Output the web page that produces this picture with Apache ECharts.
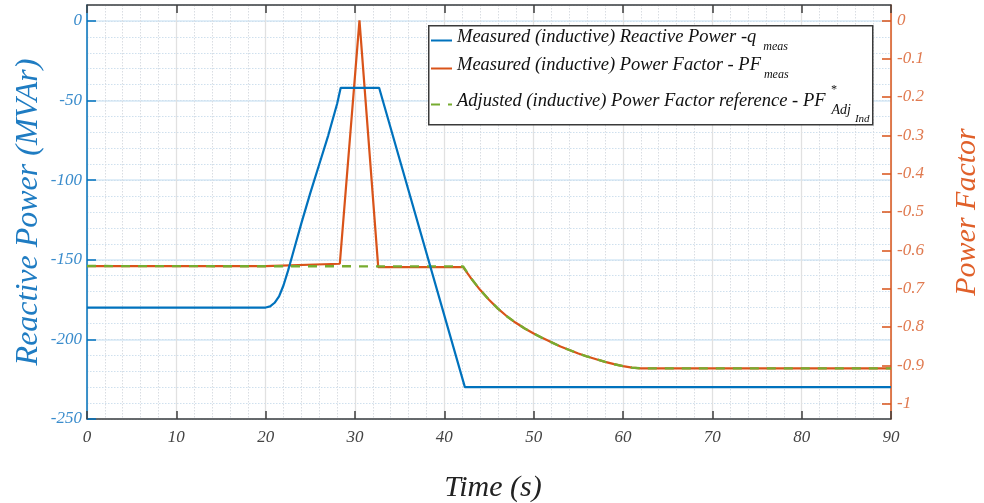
<!DOCTYPE html>
<html><head><meta charset="utf-8">
<script src="https://cdn.jsdelivr.net/npm/echarts@6/dist/echarts.min.js"></script>
<style>html,body{margin:0;padding:0;background:#fff}#c{width:984px;height:503px}</style>
</head><body><div id="c"></div><script>
// ---- data ----
const qTime = [0, 20, 20.5, 21, 21.5, 22, 22.5, 23, 24, 25, 26, 27, 28, 28.4, 32.7, 42.3, 90];
const qVals = [-180, -180, -179.3, -177, -173, -166, -157, -147, -127, -108, -90, -72, -52, -42, -42, -230, -230];

const pfMeasTime = [0, 20, 28.3, 30.5, 32.6, 42.1, 43, 44, 45, 46, 47, 48, 49, 50, 51, 52, 53, 54, 55, 56, 57, 58, 59, 60, 61, 62, 90];
const pfMeasVals = [-0.641, -0.641, -0.635, 0, -0.644, -0.644, -0.673, -0.703, -0.729, -0.752, -0.772, -0.789, -0.804, -0.817, -0.829, -0.840, -0.851, -0.860, -0.869, -0.877, -0.884, -0.891, -0.897, -0.902, -0.906, -0.908, -0.908];

const pfRefTime = [0, 42.1, 43, 44, 45, 46, 47, 48, 49, 50, 51, 52, 53, 54, 55, 56, 57, 58, 59, 60, 61, 62, 90];
const pfRefVals = [-0.641, -0.642, -0.673, -0.703, -0.729, -0.752, -0.772, -0.789, -0.804, -0.817, -0.829, -0.840, -0.851, -0.860, -0.869, -0.877, -0.884, -0.891, -0.897, -0.902, -0.906, -0.908, -0.908];

const seriesNames = [
  'Measured (inductive) Reactive Power -q meas',
  'Measured (inductive) Power Factor - PF meas',
  'Adjusted (inductive) Power Factor reference - PF* Adj Ind'
];
const xName = 'Time (s)';
const yLeftName = 'Reactive Power (MVAr)';
const yRightName = 'Power Factor';

// ---- chart ----
const F = 'Liberation Serif';
const BLUE = '#0072BD', ORANGE = '#D95319', GREEN = '#77AC30';
const pairs = (xs, ys) => xs.map((x, i) => [x, ys[i]]);
const chart = echarts.init(document.getElementById('c'), null, {renderer: 'canvas'});

const tok = (size, extra) => Object.assign({fontFamily: F, fontStyle: 'italic', fontSize: size, color: '#111', verticalAlign: 'top'}, extra || {});
const legendText = {};
legendText[seriesNames[0]] = '{m|Measured (inductive) Reactive Power -q}{s1|meas}';
legendText[seriesNames[1]] = '{m|Measured (inductive) Power Factor - PF}{s2|meas}';
legendText[seriesNames[2]] = '{m3|Adjusted (inductive) Power Factor reference - PF}{sup|*}{adj|Adj}{ind|Ind}';

const option = {
  animation: false,
  backgroundColor: '#fff',
  grid: {left: 87, right: 93, top: 5, bottom: 84, containLabel: false, outerBoundsMode: 'none'},
  graphic: [{
    type: 'rect', z: 3, left: 428, top: 25,
    shape: {width: 444, height: 99},
    style: {fill: '#fff', stroke: '#3a3a3a', lineWidth: 1.5}
  }],
  legend: {
    z: 5,
    orient: 'vertical', left: 430, top: 28, padding: 0, itemGap: 3,
    itemWidth: 21, itemHeight: 1,
    itemStyle: {opacity: 0},
    data: seriesNames,
    formatter: n => legendText[n],
    textStyle: {
      fontFamily: F, fontStyle: 'italic', fontSize: 18.5, color: '#111',
      rich: {
        m: tok(18.5),
        s1: tok(12, {padding: [13, 0, 0, 7]}),
        s2: tok(12, {padding: [13, 0, 0, 3]}),
        m3: tok(18.5, {padding: [8, 0, 0, 0]}),
        sup: tok(12, {padding: [0, 0, 0, 5], width: 1}),
        adj: tok(14, {padding: [19, 0, 0, 0]}),
        ind: tok(11, {padding: [30, 0, 0, 4]})
      }
    }
  },
  xAxis: [{
    type: 'value', min: 0, max: 90, interval: 10, position: 'bottom',
    name: xName, nameLocation: 'middle', nameGap: 54, nameMoveOverlap: false,
    nameTextStyle: {fontFamily: F, fontStyle: 'italic', fontSize: 30, color: '#222', padding: [0, 0, 0, 8]},
    axisLine: {show: true, onZero: false, lineStyle: {color: '#3f3f3f', width: 1.5}},
    axisTick: {show: true, inside: true, length: 8, lineStyle: {color: '#3f3f3f', width: 1.5}},
    axisLabel: {fontFamily: F, fontStyle: 'italic', fontSize: 17, color: '#444', margin: 10},
    splitLine: {show: true, lineStyle: {color: '#e1e1e1', width: 1.3}},
    minorTick: {show: false, splitNumber: 5},
    minorSplitLine: {show: true, lineStyle: {color: '#d9dde2', width: 1, type: [1.5, 1.5]}}
  }, {
    type: 'value', min: 0, max: 90, interval: 10, position: 'top',
    axisLine: {show: true, onZero: false, lineStyle: {color: '#3f3f3f', width: 1.5}},
    axisTick: {show: true, inside: true, length: 8, lineStyle: {color: '#3f3f3f', width: 1.5}},
    axisLabel: {show: false}, splitLine: {show: false}
  }],
  yAxis: [{
    type: 'value', min: -250, max: 10, interval: 50, position: 'left',
    name: yLeftName, nameLocation: 'middle', nameGap: 42, nameRotate: 90, nameMoveOverlap: false,
    nameTextStyle: {fontFamily: F, fontStyle: 'italic', fontSize: 32, color: '#1f7cc2'},
    axisLine: {show: true, onZero: false, lineStyle: {color: BLUE, width: 1.5}},
    axisTick: {show: true, inside: true, length: 9, lineStyle: {color: BLUE, width: 1.5}},
    axisLabel: {fontFamily: F, fontStyle: 'italic', fontSize: 17, color: '#3a8ccc', margin: 5, showMaxLabel: false},
    splitLine: {show: true, lineStyle: {color: '#d6e8f6', width: 1.5}}
  }, {
    type: 'value', min: -1.04, max: 0.04, splitNumber: 10, position: 'right',
    name: yRightName, nameLocation: 'middle', nameGap: 61, nameRotate: 90, nameMoveOverlap: false,
    nameTextStyle: {fontFamily: F, fontStyle: 'italic', fontSize: 30, color: '#e0602a'},
    axisLine: {show: true, onZero: false, lineStyle: {color: ORANGE, width: 1.5}},
    axisTick: {show: true, inside: true, length: 9, lineStyle: {color: ORANGE, width: 1.5}},
    axisLabel: {fontFamily: F, fontStyle: 'italic', fontSize: 17, color: '#e07a50', margin: 6,
      showMinLabel: false, showMaxLabel: false,
      formatter: v => { const r = Math.round(v * 10) / 10; return r === 0 ? '0' : String(r); }},
    splitLine: {show: false}
  }, {
    // hidden helper axis for the dotted minor horizontal grid
    type: 'value', min: -250, max: 10, interval: 10, position: 'left', z: 0,
    axisLine: {show: false}, axisTick: {show: false}, axisLabel: {show: false},
    splitLine: {show: true, lineStyle: {color: '#cfe0ee', width: 1, type: [1.5, 1.5]}}
  }],
  series: [{
    name: seriesNames[0], type: 'line', xAxisIndex: 0, yAxisIndex: 0, symbol: 'none', z: 4,
    data: pairs(qTime, qVals),
    lineStyle: {color: BLUE, width: 2.2}, itemStyle: {color: BLUE}
  }, {
    name: seriesNames[1], type: 'line', xAxisIndex: 0, yAxisIndex: 1, symbol: 'none', z: 2,
    data: pairs(pfMeasTime, pfMeasVals),
    lineStyle: {color: ORANGE, width: 2.2}, itemStyle: {color: ORANGE}
  }, {
    name: seriesNames[2], type: 'line', xAxisIndex: 0, yAxisIndex: 1, symbol: 'none', z: 3,
    data: pairs(pfRefTime, pfRefVals),
    lineStyle: {color: GREEN, width: 2.4, type: [9, 8]}, itemStyle: {color: GREEN}
  }]
};
chart.setOption(option);
</script></body></html>
